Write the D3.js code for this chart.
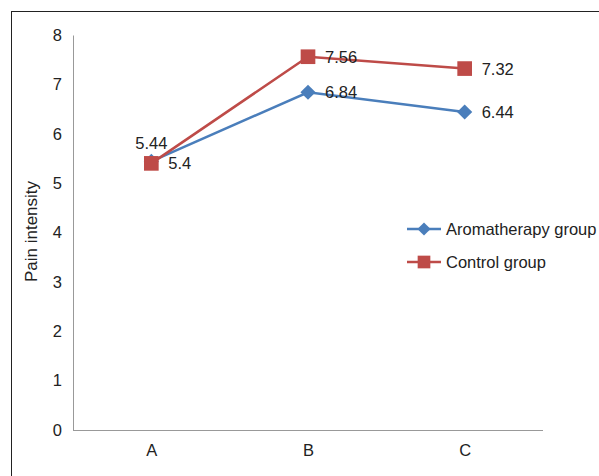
<!DOCTYPE html>
<html>
<head>
<meta charset="utf-8">
<script src="https://cdnjs.cloudflare.com/ajax/libs/d3/7.8.5/d3.min.js"></script>
<style>
  body { margin: 0; background: #fff; }
  svg { font-family: "Liberation Sans", Arial, sans-serif; }
</style>
</head>
<body>
<div class="container"></div>
<script>
// chart data
var categories = ["A", "B", "C"];
var aroma = [5.44, 6.84, 6.44];
var control = [5.4, 7.56, 7.32];
var yTicks = [0, 1, 2, 3, 4, 5, 6, 7, 8];

var width = 599;
var height = 476;
var margin = {left: 73, right: 56, top: 35, bottom: 46};
var fs = 16.5;

var svg = d3.select(".container").append("svg")
    .attr("width", width)
    .attr("height", height);

// outer frame
svg.append("rect")
  .attr("x", 11.5).attr("y", 11.5)
  .attr("width", width).attr("height", height)
  .attr("fill", "none").attr("stroke", "#222").attr("stroke-width", 1);

var x = d3.scalePoint().domain(categories)
  .range([margin.left, width - margin.right]).padding(0.5);
var y = d3.scaleLinear().domain([0, 8])
  .range([height - margin.bottom, margin.top]);

// axes
var yAxis = svg.append("g")
  .attr("transform", "translate(" + margin.left + ",0)")
  .call(d3.axisLeft(y).tickValues(yTicks).tickSize(0).tickPadding(11));
yAxis.select(".domain").attr("stroke", "#999");
yAxis.selectAll("text").attr("font-size", fs).attr("fill", "#222");

var xAxis = svg.append("g")
  .attr("transform", "translate(0," + y(0) + ")")
  .call(d3.axisBottom(x).tickSize(0).tickPadding(14));
xAxis.select(".domain").attr("stroke", "#999")
  .attr("d", "M" + margin.left + ",0.5H" + (width - margin.right));
xAxis.selectAll("text").attr("font-size", fs).attr("fill", "#222");

svg.append("text")
  .attr("transform", "translate(37," + (y(4) - 1) + ") rotate(-90)")
  .attr("text-anchor", "middle")
  .attr("font-size", 17).attr("fill", "#222")
  .text("Pain intensity");

var series = [
  {name: "Aromatherapy group", values: aroma, color: "#4a7ebb", rot: 45, size: 115},
  {name: "Control group", values: control, color: "#be4b48", rot: 0, size: 215}
];

var line = d3.line()
  .x(function (d, i) { return x(categories[i]); })
  .y(function (d) { return y(d); });

series.forEach(function (s, k) {
  svg.append("path")
    .attr("d", line(s.values))
    .attr("fill", "none")
    .attr("stroke", s.color)
    .attr("stroke-width", 2.5);

  svg.selectAll(".m" + k).data(s.values)
    .enter().append("path")
    .attr("class", "m" + k)
    .attr("transform", function (d, i) {
      return "translate(" + x(categories[i]) + "," + y(d) + ") rotate(" + s.rot + ")";
    })
    .attr("d", d3.symbol().type(d3.symbolSquare).size(s.size))
    .attr("fill", s.color);
});

// data labels
series.forEach(function (s, k) {
  svg.selectAll(".l" + k).data(s.values)
    .enter().append("text")
    .attr("x", function (d, i) {
      if (k == 0 && i == 0) return x(categories[i]) - 16;
      return x(categories[i]) + 17;
    })
    .attr("y", function (d, i) {
      if (k == 0 && i == 0) return y(d) - 12;
      return y(d) + 6;
    })
    .attr("font-size", fs).attr("fill", "#222")
    .text(function (d) { return d; });
});

// legend
var legend = svg.selectAll(".legend").data(series)
  .enter().append("g")
  .attr("transform", function (d, i) { return "translate(407," + (229 + i * 33) + ")"; });
legend.append("line")
  .attr("x1", 0).attr("x2", 34)
  .attr("stroke", function (d) { return d.color; })
  .attr("stroke-width", 2.5);
legend.append("path")
  .attr("transform", function (d) { return "translate(17,0) rotate(" + d.rot + ")"; })
  .attr("d", function (d) { return d3.symbol().type(d3.symbolSquare).size(d.size * 0.75)(); })
  .attr("fill", function (d) { return d.color; });
legend.append("text")
  .attr("x", 39).attr("y", 6)
  .attr("font-size", fs).attr("fill", "#222")
  .text(function (d) { return d.name; });
</script>
</body>
</html>
